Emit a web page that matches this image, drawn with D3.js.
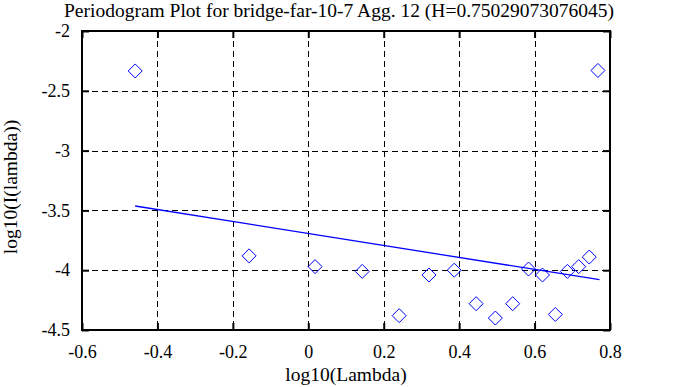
<!DOCTYPE html>
<html>
<head>
<meta charset="utf-8">
<script src="https://cdn.jsdelivr.net/npm/d3@7"></script>
<style>
  body { margin: 0; background: #fff; }
</style>
</head>
<body>
<figure id="periodogram" style="margin:0"></figure>
<script>
// periodogram points (log10 lambda, log10 I(lambda))
var logLambda = [-0.459, -0.157, 0.018, 0.143, 0.241, 0.320, 0.387, 0.445, 0.496,
                 0.542, 0.584, 0.621, 0.655, 0.687, 0.717, 0.745, 0.768];
var logI = [-2.334, -3.88, -3.97, -4.01, -4.38, -4.04, -4.00, -4.28, -4.40,
            -4.28, -3.99, -4.04, -4.37, -4.01, -3.97, -3.89, -2.33];
// fitted line: slope = 1 - 2H
var H = 0.75029073076045;
var fitSlope = 1 - 2 * H;
var fitIntercept = -3.693;
var xTicks = [-0.6, -0.4, -0.2, 0, 0.2, 0.4, 0.6, 0.8];
var yTicks = [-2, -2.5, -3, -3.5, -4, -4.5];

var serif = '"Liberation Serif", "Times New Roman", "DejaVu Serif", serif';
var width = 678, height = 387;
var mLeft = 82, mRight = 610, mTop = 31, mBottom = 330;

var svg = d3.select("figure#periodogram")
  .append("svg")
  .attr("width", width)
  .attr("height", height);

var x = d3.scaleLinear().domain([-0.6, 0.8]).range([mLeft, mRight]);
var y = d3.scaleLinear().domain([-4.5, -2]).range([mBottom, mTop]);

// grid, dashed
svg.append("g")
  .selectAll("line")
  .data(xTicks.slice(1, -1))
  .enter()
  .append("line")
  .attr("x1", d => Math.round(x(d)) + 0.5)
  .attr("x2", d => Math.round(x(d)) + 0.5)
  .attr("y1", mTop)
  .attr("y2", mBottom)
  .attr("stroke", "#000")
  .attr("stroke-dasharray", "6,4");

svg.append("g")
  .selectAll("line")
  .data(yTicks.slice(1, -1))
  .enter()
  .append("line")
  .attr("x1", mLeft)
  .attr("x2", mRight)
  .attr("y1", d => Math.round(y(d)) + 0.5)
  .attr("y2", d => Math.round(y(d)) + 0.5)
  .attr("stroke", "#000")
  .attr("stroke-dasharray", "6,4");

var fmt = d => String(d);

// axes with inner ticks on all four sides
svg.append("g")
  .attr("transform", "translate(0," + mBottom + ")")
  .call(d3.axisBottom(x).tickValues(xTicks).tickSizeInner(-7).tickSizeOuter(0).tickPadding(15).tickFormat(fmt))
  .call(g => g.select(".domain").remove())
  .call(g => g.selectAll("line").attr("stroke-width", 2))
  .call(g => g.selectAll("text").style("font-size", "18px").style("font-family", serif).attr("fill", "#000"));

svg.append("g")
  .attr("transform", "translate(0," + mTop + ")")
  .call(d3.axisTop(x).tickValues(xTicks).tickSizeInner(-7).tickSizeOuter(0).tickFormat(""))
  .call(g => g.select(".domain").remove())
  .call(g => g.selectAll("line").attr("stroke-width", 2));

svg.append("g")
  .attr("transform", "translate(" + mLeft + ",0)")
  .call(d3.axisLeft(y).tickValues(yTicks).tickSizeInner(-7).tickSizeOuter(0).tickPadding(12).tickFormat(fmt))
  .call(g => g.select(".domain").remove())
  .call(g => g.selectAll("line").attr("stroke-width", 2))
  .call(g => g.selectAll("text").style("font-size", "18px").style("font-family", serif).attr("fill", "#000"));

svg.append("g")
  .attr("transform", "translate(" + mRight + ",0)")
  .call(d3.axisRight(y).tickValues(yTicks).tickSizeInner(-7).tickSizeOuter(0).tickFormat(""))
  .call(g => g.select(".domain").remove())
  .call(g => g.selectAll("line").attr("stroke-width", 2));

// frame
svg.append("rect")
  .attr("x", mLeft)
  .attr("y", mTop)
  .attr("width", mRight - mLeft)
  .attr("height", mBottom - mTop)
  .attr("fill", "none")
  .attr("stroke", "#000")
  .attr("stroke-width", 2);

// fitted line
var xs = d3.extent(logLambda);
svg.append("line")
  .attr("x1", x(xs[0]))
  .attr("y1", y(fitIntercept + fitSlope * xs[0]))
  .attr("x2", x(xs[1] + 0.004))
  .attr("y2", y(fitIntercept + fitSlope * (xs[1] + 0.004)))
  .attr("stroke", "#0000ff")
  .attr("stroke-width", 1.3);

// diamonds
var pts = logLambda.map((d, i) => [d, logI[i]]);
svg.append("g")
  .selectAll("path")
  .data(pts)
  .enter()
  .append("path")
  .attr("d", d => {
    var cx = x(d[0]), cy = y(d[1]), r = 7;
    return "M" + cx + "," + (cy - r) + "L" + (cx + r) + "," + cy + "L" + cx + "," + (cy + r) + "L" + (cx - r) + "," + cy + "Z";
  })
  .attr("fill", "none")
  .attr("stroke", "#0000ff")
  .attr("stroke-width", 1);

// titles
svg.append("text")
  .attr("x", 339)
  .attr("y", 17)
  .attr("text-anchor", "middle")
  .style("font-family", serif)
  .style("font-size", "19.5px")
  .text("Periodogram Plot for bridge-far-10-7 Agg. 12 (H=" + H + ")");

svg.append("text")
  .attr("x", 346)
  .attr("y", 381)
  .attr("text-anchor", "middle")
  .style("font-family", serif)
  .style("font-size", "19.5px")
  .text("log10(Lambda)");

svg.append("text")
  .attr("transform", "translate(17,187) rotate(-90)")
  .attr("text-anchor", "middle")
  .style("font-family", serif)
  .style("font-size", "19.5px")
  .text("log10(I(lambda))");
</script>
</body>
</html>
